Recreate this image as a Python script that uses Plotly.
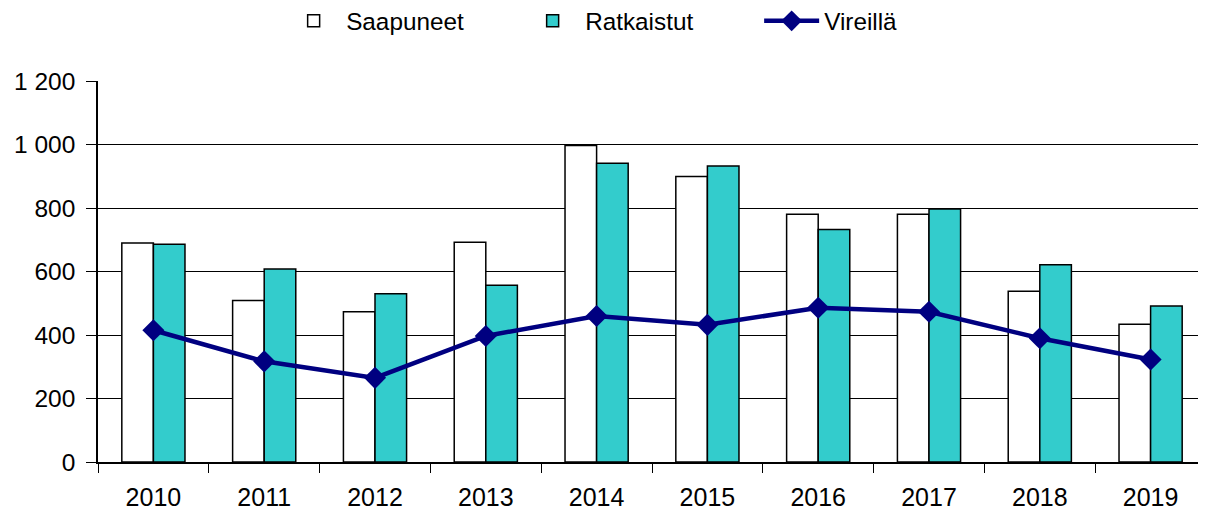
import plotly.graph_objects as go

years = ["2010", "2011", "2012", "2013", "2014", "2015", "2016", "2017", "2018", "2019"]
saapuneet = [690, 509, 473, 692, 997, 899, 780, 780, 538, 434]
ratkaistut = [686, 608, 530, 557, 941, 932, 732, 797, 621, 491]
vireilla = [415, 317, 265, 397, 460, 432, 486, 473, 390, 323]
y_ticks = [0, 200, 400, 600, 800, 1000, 1200]

fig = go.Figure()
fig.add_trace(go.Bar(x=years, y=saapuneet, name="Saapuneet",
                     marker=dict(color="white", line=dict(color="black", width=1.5))))
fig.add_trace(go.Bar(x=years, y=ratkaistut, name="Ratkaistut",
                     marker=dict(color="#33CCCC", line=dict(color="black", width=1.5))))
fig.add_trace(go.Scatter(x=years, y=vireilla, name="Vireillä", mode="lines+markers",
                         line=dict(color="#000080", width=4.5),
                         marker=dict(symbol="diamond", size=17, color="#000080")))

fig.update_layout(
    width=1198, height=503,
    margin=dict(l=90, r=0, t=73, b=44),
    paper_bgcolor="white", plot_bgcolor="white",
    font=dict(family="Liberation Sans, Arial, sans-serif", size=24, color="black"),
    separators=", ",
    barmode="group", bargap=0.43, bargroupgap=0,
    showlegend=True,
    legend=dict(orientation="h", xref="container", yref="container",
                x=0.228, xanchor="left", y=0.974, yanchor="middle",
                font=dict(size=24.3), itemwidth=55,
                entrywidth=169, entrywidthmode="pixels", traceorder="normal"),
    xaxis=dict(range=[-0.5, 9.5], showline=True, linecolor="black", linewidth=1.5,
               ticks="outside", tickson="boundaries", ticklen=9, tickcolor="black",
               showgrid=False, tickfont=dict(size=25), ticklabelstandoff=12),
    yaxis=dict(range=[0, 1200], tickvals=y_ticks, showline=True, linecolor="black",
               linewidth=1.5, ticks="outside", ticklen=10, tickcolor="black",
               showgrid=True, gridcolor="black", gridwidth=1, zeroline=False,
               tickformat=",d", tickfont=dict(size=24.5), ticklabelstandoff=6),
)

fig.write_html("out.html")
